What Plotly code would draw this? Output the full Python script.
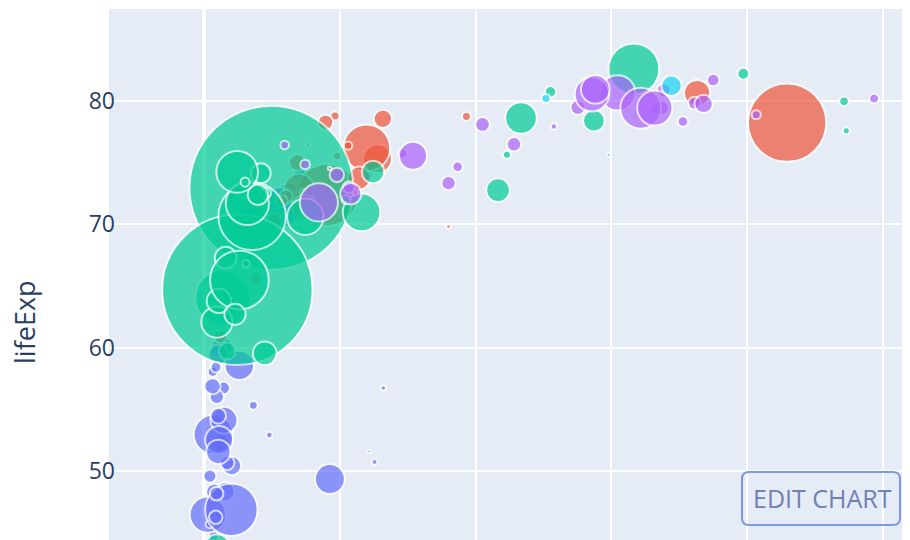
import plotly.graph_objects as go

# Gapminder 2007: country, continent, life expectancy, population, GDP per capita
countries = ["Afghanistan","Albania","Algeria","Angola","Argentina","Australia","Austria","Bahrain","Bangladesh","Belgium",
 "Benin","Bolivia","Bosnia and Herzegovina","Botswana","Brazil","Bulgaria","Burkina Faso","Burundi","Cambodia","Cameroon",
 "Canada","Central African Republic","Chad","Chile","China","Colombia","Comoros","Congo, Dem. Rep.","Congo, Rep.","Costa Rica",
 "Cote d'Ivoire","Croatia","Cuba","Czech Republic","Denmark","Djibouti","Dominican Republic","Ecuador","Egypt","El Salvador",
 "Equatorial Guinea","Eritrea","Ethiopia","Finland","France","Gabon","Gambia","Germany","Ghana","Greece",
 "Guatemala","Guinea","Guinea-Bissau","Haiti","Honduras","Hong Kong, China","Hungary","Iceland","India","Indonesia",
 "Iran","Iraq","Ireland","Israel","Italy","Jamaica","Japan","Jordan","Kenya","Korea, Dem. Rep.",
 "Korea, Rep.","Kuwait","Lebanon","Lesotho","Liberia","Libya","Madagascar","Malawi","Malaysia","Mali",
 "Mauritania","Mauritius","Mexico","Mongolia","Montenegro","Morocco","Mozambique","Myanmar","Namibia","Nepal",
 "Netherlands","New Zealand","Nicaragua","Niger","Nigeria","Norway","Oman","Pakistan","Panama","Paraguay",
 "Peru","Philippines","Poland","Portugal","Puerto Rico","Reunion","Romania","Rwanda","Sao Tome and Principe","Saudi Arabia",
 "Senegal","Serbia","Sierra Leone","Singapore","Slovak Republic","Slovenia","Somalia","South Africa","Spain","Sri Lanka",
 "Sudan","Swaziland","Sweden","Switzerland","Syria","Taiwan","Tanzania","Thailand","Togo","Trinidad and Tobago",
 "Tunisia","Turkey","Uganda","United Kingdom","United States","Uruguay","Venezuela","Vietnam","West Bank and Gaza","Yemen, Rep.",
 "Zambia","Zimbabwe"]

continents = ["Asia","Europe","Africa","Africa","Americas","Oceania","Europe","Asia","Asia","Europe",
 "Africa","Americas","Europe","Africa","Americas","Europe","Africa","Africa","Asia","Africa",
 "Americas","Africa","Africa","Americas","Asia","Americas","Africa","Africa","Africa","Americas",
 "Africa","Europe","Americas","Europe","Europe","Africa","Americas","Americas","Africa","Americas",
 "Africa","Africa","Africa","Europe","Europe","Africa","Africa","Europe","Africa","Europe",
 "Americas","Africa","Africa","Americas","Americas","Asia","Europe","Europe","Asia","Asia",
 "Asia","Asia","Europe","Asia","Europe","Americas","Asia","Asia","Africa","Asia",
 "Asia","Asia","Asia","Africa","Africa","Africa","Africa","Africa","Asia","Africa",
 "Africa","Africa","Americas","Asia","Europe","Africa","Africa","Asia","Africa","Asia",
 "Europe","Oceania","Americas","Africa","Africa","Europe","Asia","Asia","Americas","Americas",
 "Americas","Asia","Europe","Europe","Americas","Africa","Europe","Africa","Africa","Asia",
 "Africa","Europe","Africa","Asia","Europe","Europe","Africa","Africa","Europe","Asia",
 "Africa","Africa","Europe","Europe","Asia","Asia","Africa","Asia","Africa","Americas",
 "Africa","Europe","Africa","Europe","Americas","Americas","Americas","Asia","Asia","Asia",
 "Africa","Africa"]

life_exp = [43.828,76.423,72.301,42.731,75.32,81.235,79.829,75.635,64.062,79.441,
 56.728,65.554,74.852,50.728,72.39,73.005,52.295,49.58,59.723,50.43,
 80.653,44.741,50.651,78.553,72.961,72.889,65.152,46.462,55.322,78.782,
 48.328,75.748,78.273,76.486,78.332,54.791,72.235,74.994,71.338,71.878,
 51.579,58.04,52.947,79.313,80.657,56.735,59.448,79.406,60.022,79.483,
 70.259,56.007,46.388,60.916,70.198,82.208,73.338,81.757,64.698,70.65,
 70.964,59.545,78.885,80.745,80.546,72.567,82.603,72.535,54.11,67.297,
 78.623,77.588,71.993,42.592,45.678,73.952,59.443,48.303,74.241,54.467,
 64.164,72.801,76.195,66.803,74.543,71.164,42.082,62.069,52.906,63.785,
 79.762,80.204,72.899,56.867,46.859,80.196,75.64,65.483,75.537,71.752,
 71.421,71.688,75.563,78.098,78.746,76.442,72.476,46.242,65.528,72.777,
 63.062,74.002,42.568,79.972,74.663,77.926,48.159,49.339,80.941,72.396,
 58.556,39.613,80.884,81.701,74.143,78.4,52.517,70.616,58.42,69.819,
 73.923,71.777,51.542,79.425,78.242,76.384,73.747,74.249,73.422,62.698,
 42.384,43.487]

population = [31889923,3600523,33333216,12420476,40301927,20434176,8199783,708573,150448339,10392226,
 8078314,9119152,4552198,1639131,190010647,7322858,14326203,8390505,14131858,17696293,
 33390141,4369038,10238807,16284741,1318683096,44227550,710960,64606759,3800610,4133884,
 18013409,4493312,11416987,10228744,5468120,496374,9319622,13755680,80264543,6939688,
 551201,4906585,76511887,5238460,61083916,1454867,1688359,82400996,22873338,10706290,
 12572928,9947814,1472041,8502814,7483763,6980412,9956108,301931,1110396331,223547000,
 69453570,27499638,4109086,6426679,58147733,2780132,127467972,6053193,35610177,23301725,
 49044790,2505559,3921278,2012649,3193942,6036914,19167654,13327079,24821286,12031795,
 3270065,1250882,108700891,2874127,684736,33757175,19951656,47761980,2055080,28901790,
 16570613,4115771,5675356,12894865,135031164,4627926,3204897,169270617,3242173,6667147,
 28674757,91077287,38518241,10642836,3942491,798094,22276056,8860588,199579,27601038,
 12267493,10150265,6144562,4553009,5447502,2009245,9118773,43997828,40448191,20378239,
 42292929,1133066,9031088,7554661,19314747,23174294,38139640,65068149,5701579,1056608,
 10276158,71158647,29170398,60776238,301139947,3447496,26084662,85262356,4018332,22211743,
 11746035,12311143]

gdp_per_cap = [974.58,5937.03,6223.37,4797.23,12779.38,34435.37,36126.49,29796.05,1391.25,33692.61,
 1441.28,3822.14,7446.30,12569.85,9065.80,10680.79,1217.03,430.07,1713.78,2042.10,
 36319.24,706.02,1704.06,13171.64,4959.11,7006.58,986.15,277.55,3632.56,9645.06,
 1544.75,14619.22,8948.10,22833.31,35278.42,2082.48,6025.37,6873.26,5581.18,5728.35,
 12154.09,641.37,690.81,33207.08,30470.02,13206.48,752.75,32170.37,1327.61,27538.41,
 5186.05,942.65,579.23,1201.64,3548.33,39724.98,18008.94,36180.79,2452.21,3540.65,
 11605.71,4471.06,40676.00,25523.28,28569.72,7320.88,31656.07,4519.46,1463.25,1593.07,
 23348.14,47306.99,10461.06,1569.33,414.51,12057.50,1044.77,759.35,12451.66,1042.58,
 1803.15,10956.99,11977.57,3095.77,9253.90,3820.18,823.69,944.00,4811.06,1091.36,
 36797.93,25185.01,2749.32,619.68,2013.98,49357.19,22316.19,2605.95,9809.19,4172.84,
 7408.91,3190.48,15389.92,20509.65,19328.71,7670.12,10808.48,863.09,1598.44,21654.83,
 1712.47,9786.53,862.54,47143.18,18678.31,25768.26,926.14,9269.66,28821.06,3970.10,
 2602.39,4513.48,33859.75,37506.42,4184.55,28718.28,1107.48,7458.40,882.97,18008.51,
 7092.92,8458.28,1056.38,33203.26,42951.65,10611.46,11415.81,2441.58,3025.35,2280.77,
 1271.21,469.71]

continent_order = ["Africa", "Americas", "Asia", "Europe", "Oceania"]
continent_colors = {"Africa": "#636efa", "Americas": "#EF553B", "Asia": "#00cc96",
                    "Europe": "#ab63fa", "Oceania": "#19d3f3"}

y_ticks = [50, 60, 70, 80]

max_diam = 164
sizeref = 2.0 * max(population) / (max_diam ** 2)

fig = go.Figure()
for cont in continent_order:
    idx = [i for i, c in enumerate(continents) if c == cont]
    fig.add_trace(go.Scatter(
        x=[gdp_per_cap[i] for i in idx],
        y=[life_exp[i] for i in idx],
        text=[countries[i] for i in idx],
        name=cont,
        mode="markers",
        marker=dict(
            size=[population[i] for i in idx],
            sizemode="area",
            sizeref=sizeref,
            color=continent_colors[cont],
            opacity=0.7,
            line=dict(color="white", width=2),
        ),
        hovertemplate="%{text}<br>gdpPercap=%{x}<br>lifeExp=%{y}<extra></extra>",
    ))

# page has an 8px body margin; figure fills the rest of the window
OFF = 8
W, H = 910 - OFF, 540 - OFF
L, T = 109 - OFF, 9 - OFF
pw, ph = W - L, H - T

def px_x(p):  # screen px -> paper x
    return (p - OFF - L) / pw

def px_y(p):  # screen px -> paper y
    return (H - (p - OFF)) / ph

# rounded "EDIT CHART" box (paper coords)
bx0, bx1, by0, by1 = px_x(742), px_x(900), px_y(525), px_y(472)
rx, ry = 7 / pw, 7 / ph
path = (f"M {bx0+rx},{by0} L {bx1-rx},{by0} Q {bx1},{by0} {bx1},{by0+ry} "
        f"L {bx1},{by1-ry} Q {bx1},{by1} {bx1-rx},{by1} L {bx0+rx},{by1} "
        f"Q {bx0},{by1} {bx0},{by1-ry} L {bx0},{by0+ry} Q {bx0},{by0} {bx0+rx},{by0} Z")

fig.update_layout(
    template="plotly",
    width=W, height=H, autosize=False,
    margin=dict(l=L, r=0, t=T, b=0, pad=0),
    showlegend=False,
    font=dict(family="Open Sans, verdana, arial, sans-serif", color="#2a3f5f"),
    xaxis=dict(range=[-7000, 52000], tickvals=[0, 10000, 20000, 30000, 40000, 50000],
               showticklabels=False, gridcolor="white", gridwidth=2,
               zeroline=True, zerolinecolor="white", zerolinewidth=4),
    yaxis=dict(range=[44.40, 87.46], tickvals=y_ticks, ticktext=[str(v) for v in y_ticks],
               tickfont=dict(size=23), ticklabelstandoff=-7,
               gridcolor="white", gridwidth=2, zeroline=False),
    shapes=[dict(type="path", xref="paper", yref="paper", path=path,
                 line=dict(color="#7d99e3", width=2), fillcolor="rgba(0,0,0,0)")],
    annotations=[
        dict(text="lifeExp", xref="paper", yref="paper", x=px_x(25), y=px_y(322),
             xanchor="center", yanchor="middle", textangle=-90, showarrow=False,
             font=dict(size=27, color="#2a3f5f")),
        dict(text="EDIT CHART", xref="paper", yref="paper", x=px_x(822), y=px_y(498),
             xanchor="center", yanchor="middle", showarrow=False,
             font=dict(size=25, color="#6f81b5")),
    ],
)

fig.write_html("out.html")
